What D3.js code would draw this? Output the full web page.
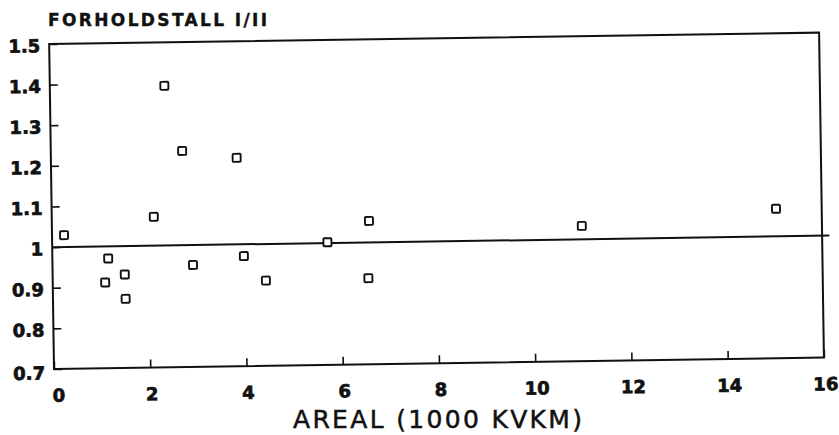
<!DOCTYPE html>
<html>
<head>
<meta charset="utf-8">
<script src="https://cdn.jsdelivr.net/npm/d3@7"></script>
<style>
  body { margin: 0; background: #fff; }
  svg { display: block; }
  text { font-family: "DejaVu Sans", sans-serif; fill: #111; }
</style>
</head>
<body>
<svg width="839" height="435"></svg>
<script>
// areal (1000 kvkm) and forholdstall I/II
const areal = [0.25, 1.16, 1.5, 1.09, 1.51, 2.12, 2.38, 2.73, 2.92, 3.86, 3.98, 4.43, 5.72, 6.59, 6.56, 11.01, 15.05];
const ratio = [1.029, 0.97, 0.93, 0.911, 0.87, 1.071, 1.393, 1.232, 0.951, 1.213, 0.971, 0.91, 1.002, 1.053, 0.912, 1.033, 1.068];

const xTicks = [0, 2, 4, 6, 8, 10, 12, 14, 16];
const yTicks = [0.7, 0.8, 0.9, 1.0, 1.1, 1.2, 1.3, 1.4, 1.5];
const yTickLabels = ["0.7", "0.8", "0.9", "1", "1.1", "1.2", "1.3", "1.4", "1.5"];

// reference line at ratio 1 (runs a little past the right frame)
const refX = [0, 16.15];
const refY = [1, 1];

const LEFT = 54, RIGHT = 824, TOP = 44, BOTTOM = 369;

const svg = d3.select("svg");

const x = d3.scaleLinear().domain([0, 16]).range([LEFT, RIGHT]);
const y = d3.scaleLinear().domain([0.7, 1.5]).range([BOTTOM, TOP]);

// the scanned page sits slightly skewed, so the plot is turned a little
const chart = svg.append("g")
    .attr("transform", `rotate(-0.85, ${LEFT}, ${BOTTOM})`);

chart.append("rect")
    .attr("x", LEFT)
    .attr("y", TOP)
    .attr("width", RIGHT - LEFT)
    .attr("height", BOTTOM - TOP)
    .attr("fill", "none")
    .attr("stroke", "#111")
    .attr("stroke-width", 2);

function boldLabels(sel) {
  sel.attr("font-family", "DejaVu Sans")
    .attr("font-weight", "bold")
    .attr("font-size", 18)
    .attr("fill", "#111")
    .attr("stroke", "#111")
    .attr("stroke-width", 0.7);
}

const xAxis = chart.append("g")
    .attr("transform", `translate(0, ${BOTTOM})`)
    .call(d3.axisBottom(x).tickValues(xTicks).tickFormat(d3.format("d"))
        .tickSizeInner(-8).tickSizeOuter(0).tickPadding(20));
xAxis.select(".domain").remove();
xAxis.selectAll("line").attr("stroke", "#111").attr("stroke-width", 1.6);
xAxis.selectAll("text")
    .call(boldLabels)
    .attr("dx", (d, i) => i === 0 ? 4 : 1);

const yAxis = chart.append("g")
    .attr("transform", `translate(${LEFT}, 0)`)
    .call(d3.axisLeft(y).tickValues(yTicks).tickFormat((d, i) => yTickLabels[i])
        .tickSizeInner(-8).tickSizeOuter(0).tickPadding(9));
yAxis.select(".domain").remove();
yAxis.selectAll("line").attr("stroke", "#111").attr("stroke-width", 1.6);
yAxis.selectAll("text")
    .call(boldLabels)
    .attr("dy", (d, i) => i === 0 ? "0.55em" : "0.42em");

chart.append("line")
    .attr("x1", x(refX[0]))
    .attr("y1", y(refY[0]))
    .attr("x2", x(refX[1]))
    .attr("y2", y(refY[1]))
    .attr("stroke", "#111")
    .attr("stroke-width", 2);

const S = 8;
chart.selectAll(".pt")
    .data(areal)
    .enter()
    .append("rect")
    .classed("pt", true)
    .attr("x", (d) => x(d) - S / 2)
    .attr("y", (d, i) => y(ratio[i]) - S / 2)
    .attr("width", S)
    .attr("height", S)
    .attr("rx", 1)
    .attr("fill", "#fff")
    .attr("stroke", "#111")
    .attr("stroke-width", 1.9);

svg.append("text")
    .attr("x", 48)
    .attr("y", 26)
    .attr("font-weight", "bold")
    .attr("font-size", 17)
    .attr("stroke", "#111")
    .attr("stroke-width", 0.4)
    .attr("textLength", 219)
    .attr("lengthAdjust", "spacing")
    .text("FORHOLDSTALL I/II");

svg.append("text")
    .attr("x", 293)
    .attr("y", 428)
    .attr("font-size", 25)
    .attr("stroke", "#111")
    .attr("stroke-width", 0.5)
    .attr("textLength", 289)
    .attr("lengthAdjust", "spacing")
    .text("AREAL (1000 KVKM)");
</script>
</body>
</html>
